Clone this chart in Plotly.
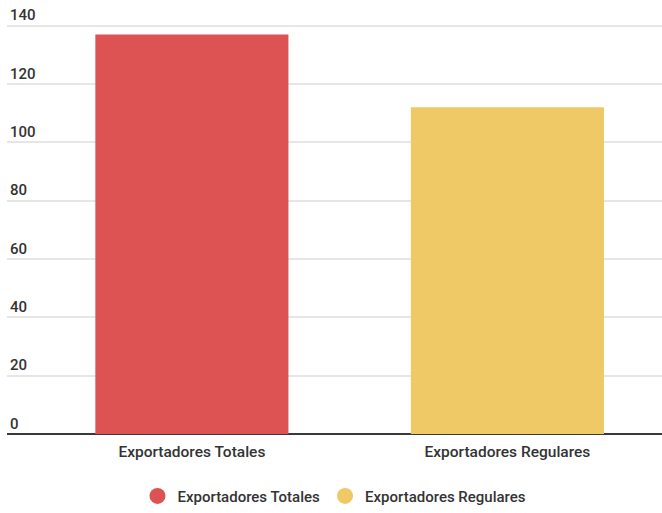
import plotly.graph_objects as go

categories = ["Exportadores Totales", "Exportadores Regulares"]
values = [137, 112]
colors = ["#DD5354", "#EEC965"]
y_ticks = [0, 20, 40, 60, 80, 100, 120, 140]

fig = go.Figure()
for cat, val, col in zip(categories, values, colors):
    fig.add_trace(go.Bar(x=[cat], y=[val], marker=dict(color=col, line=dict(width=0)),
                         width=0.612, showlegend=False, name=cat))
for cat, col in zip(categories, colors):
    fig.add_trace(go.Scatter(x=[None], y=[None], mode="markers", name=cat,
                             marker=dict(symbol="circle", size=20, color=col)))

fig.update_layout(
    width=662, height=513,
    margin=dict(l=7, r=0, t=5, b=75),
    paper_bgcolor="white", plot_bgcolor="white",
    barmode="overlay",
    font=dict(family="Roboto", size=15, color="#333333"),
    showlegend=True,
    legend=dict(orientation="h", x=0.5, xanchor="center", y=-0.145, yanchor="middle",
                font=dict(family="Roboto", size=15, color="#333333", weight=500),
                itemwidth=30, tracegroupgap=0),
    xaxis=dict(range=[-0.586, 1.49], showgrid=False, zeroline=False, showline=False,
               tickfont=dict(family="Roboto", size=15.5, color="#333333", weight=500),
               ticks="", ticklabelstandoff=6),
    yaxis=dict(range=[0, 147.1], tickvals=y_ticks, ticktext=[str(v) for v in y_ticks],
               showgrid=True, gridcolor="#E6E6E6", gridwidth=2,
               zeroline=True, zerolinecolor="#3A3A3A", zerolinewidth=2,
               showline=False, ticks="",
               ticklabelposition="inside top",
               tickfont=dict(family="Roboto", size=15, color="#333333", weight=500)),
)

fig.write_html("out.html")
